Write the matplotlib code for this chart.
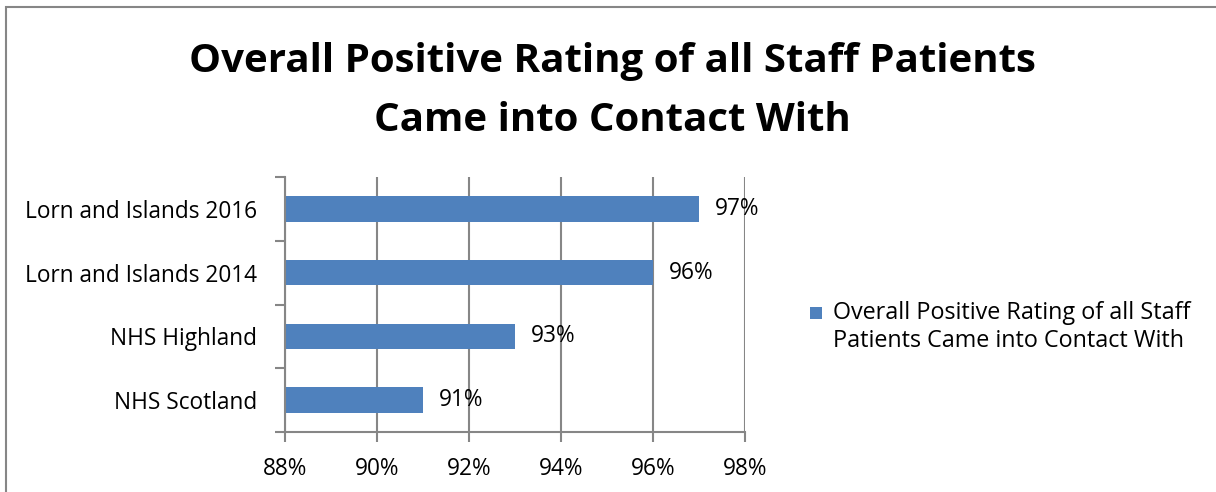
import matplotlib
matplotlib.use("Agg")
import matplotlib.pyplot as plt
from matplotlib.patches import Rectangle

categories = ["NHS Scotland", "NHS Highland", "Lorn and Islands 2014", "Lorn and Islands 2016"]
values = [91, 93, 96, 97]
xticks = [88, 90, 92, 94, 96, 98]
xtick_labels = ["88%", "90%", "92%", "94%", "96%", "98%"]
title = "Overall Positive Rating of all Staff Patients\nCame into Contact With"
legend_label = "Overall Positive Rating of all Staff\nPatients Came into Contact With"

W, H = 1216, 492
fig = plt.figure(figsize=(W / 100, H / 100), dpi=100)
plt.rcParams['font.family'] = ['Open Sans', 'DejaVu Sans']

grey = "#868686"
blue = "#4F81BD"
fs = 16.3

# outer frame
fig.patches.append(Rectangle((6 / W, -0.1), 1.2, (H - 7) / H + 0.1, transform=fig.transFigure,
                             fill=False, edgecolor=grey, linewidth=1.5))
# cut-off caption fragment
fig.text(12 / W, 1 + 9 / H, "g", fontsize=20, fontweight='bold', va='baseline', ha='left')

ax = fig.add_axes([285 / W, 60 / H, 460 / W, 255 / H])
y = list(range(len(categories)))
ax.barh(y, values, height=0.4, color=blue, left=0, zorder=3)
ax.set_xlim(88, 98)
ax.set_ylim(-0.5, len(categories) - 0.5)
ax.set_xticks(xticks)
ax.set_xticklabels(xtick_labels, fontsize=fs)
ax.set_yticks(y)
ax.set_yticklabels(categories, fontsize=fs)
ax.set_yticks([i - 0.5 for i in range(len(categories) + 1)], minor=True)
ax.tick_params(axis='y', which='major', length=0, pad=20)
ax.tick_params(axis='y', which='minor', length=7, width=1.5, color=grey, direction='out')
ax.tick_params(axis='x', which='major', length=7, width=1.5, color=grey, direction='out', pad=11)
ax.grid(axis='x', color=grey, linewidth=1.5, zorder=0)
for s in ['top', 'right']:
    ax.spines[s].set_visible(False)
for s in ['left', 'bottom']:
    ax.spines[s].set_color(grey)
    ax.spines[s].set_linewidth(1.5)
    ax.spines[s].set_zorder(4)

for yi, v in zip(y, values):
    ax.annotate(f"{v}%", xy=(v, yi), xytext=(11.5, 0), textcoords='offset points',
                va='center', ha='left', fontsize=fs, zorder=5)

fig.text(612 / W, 1 - 91 / H, title, fontsize=29, fontweight='bold', ha='center', va='center',
         linespacing=1.65)

# legend
fig.patches.append(Rectangle((810 / W, 1 - 319 / H), 12 / W, 12 / H, transform=fig.transFigure,
                             facecolor=blue, edgecolor='none'))
fig.text(833 / W, 1 - 327 / H, legend_label, fontsize=16.8, ha='left', va='center', linespacing=1.2)

fig.savefig("out.png", dpi=100)
